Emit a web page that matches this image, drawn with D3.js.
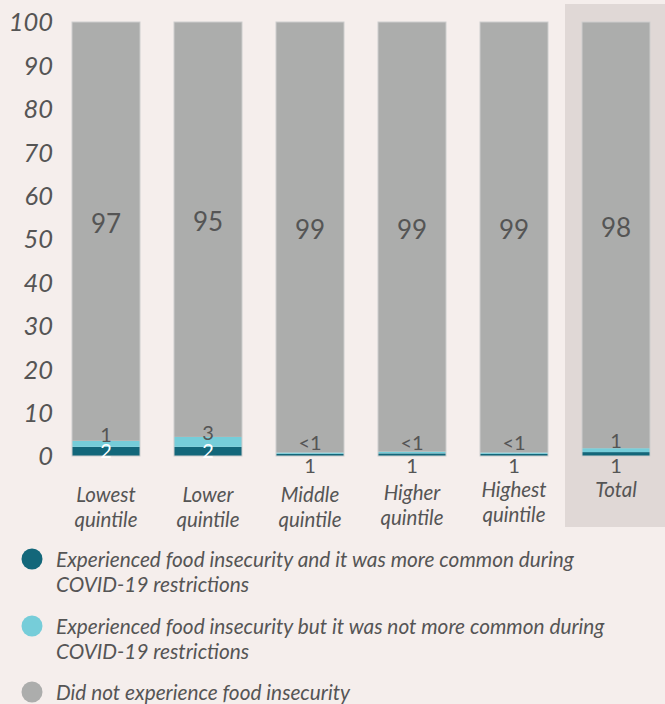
<!DOCTYPE html>
<html>
<head>
<meta charset="utf-8">
<script src="https://cdn.jsdelivr.net/npm/d3@7"></script>
<style>
  body { margin: 0; background: #f5eeec; }
  svg { display: block; font-family: Lato, "Open Sans", sans-serif; }
</style>
</head>
<body>
<svg id="chart" width="665" height="704"></svg>
<script>
// food insecurity by income quintile, stacked to 100
var categories = ["Lowest quintile", "Lower quintile", "Middle quintile", "Higher quintile", "Highest quintile", "Total"];
var moreCommon = [2.1, 2.1, 0.5, 0.6, 0.5, 0.9];      // dark teal
var notMoreCommon = [1.4, 2.3, 0.3, 0.4, 0.3, 0.9]; // light cyan
var noInsecurity = [96.5, 95.6, 99.2, 99, 99.2, 98.2];

var moreLabels = ["2", "2", "1", "1", "1", "1"];
var notMoreLabels = ["1", "3", "<1", "<1", "<1", "1"];
var noLabels = ["97", "95", "99", "99", "99", "98"];

var yTicks = [0, 10, 20, 30, 40, 50, 60, 70, 80, 90, 100];

var legendItems = [
  ["Experienced food insecurity and it was more common during", "COVID-19 restrictions"],
  ["Experienced food insecurity but it was not more common during", "COVID-19 restrictions"],
  ["Did not experience food insecurity"]
];

var keys = ["more", "notMore", "none"];
var colors = {more: "#13677a", notMore: "#76cdd9", none: "#acadac"};

var rows = categories.map(function(c, i) {
  return {cat: c, more: moreCommon[i], notMore: notMoreCommon[i], none: noInsecurity[i], i: i};
});

var svg = d3.select("#chart");

var x = d3.scaleBand().domain(categories).range([55, 667]).paddingInner(1/3).paddingOuter(1/6);
var y = d3.scaleLinear().domain([0, 100]).range([456, 22]);

// highlight band behind Total
svg.append("rect")
  .attr("x", 565).attr("y", 4)
  .attr("width", 100).attr("height", 523)
  .attr("fill", "#e0d8d6");

// y axis labels only
svg.append("g").selectAll("text")
  .data(yTicks).enter().append("text")
  .attr("x", 53)
  .attr("y", function(d) { return y(d) + 3; })
  .attr("text-anchor", "end")
  .attr("dominant-baseline", "middle")
  .attr("font-size", 25.5)
  .attr("font-style", "italic")
  .attr("fill", "#555")
  .text(function(d) { return d; });

var stack = d3.stack().keys(keys)(rows);

svg.append("g").selectAll("g")
  .data(stack).enter().append("g")
  .attr("fill", function(s) { return colors[s.key]; })
  .selectAll("rect")
  .data(function(s) { return s; }).enter().append("rect")
  .attr("x", function(d) { return x(d.data.cat); })
  .attr("width", x.bandwidth())
  .attr("y", function(d) { return y(d[1]); })
  .attr("height", function(d) { return y(d[0]) - y(d[1]); });

// thin outline round each bar
svg.append("g").selectAll("rect")
  .data(rows).enter().append("rect")
  .attr("x", function(d) { return x(d.cat); })
  .attr("y", y(100))
  .attr("width", x.bandwidth())
  .attr("height", y(0) - y(100))
  .attr("fill", "none")
  .attr("stroke", "#cdcdcd")
  .attr("stroke-width", 1);

var cx = function(i) { return x(categories[i]) + x.bandwidth() / 2; };

// big grey labels, middle of grey segment
var noneSeries = stack[2];
svg.append("g").selectAll("text")
  .data(noneSeries).enter().append("text")
  .attr("x", function(d, i) { return cx(i); })
  .attr("y", function(d) { return (y(d[0]) + y(d[1])) / 2 + 2; })
  .attr("text-anchor", "middle")
  .attr("font-size", 26)
  .attr("fill", "#555")
  .text(function(d, i) { return noLabels[i]; });

// light segment labels around the segment middle
var notMoreSeries = stack[1];
svg.append("g").selectAll("text")
  .data(notMoreSeries).enter().append("text")
  .attr("x", function(d, i) { return cx(i); })
  .attr("y", function(d) { return Math.min((y(d[0]) + y(d[1])) / 2 - 2, 450); })
  .attr("text-anchor", "middle")
  .attr("font-size", 20)
  .attr("fill", "#555")
  .text(function(d, i) { return notMoreLabels[i]; });

// dark segment labels: white inside if tall, else below the baseline
var moreSeries = stack[0];
svg.append("g").selectAll("text")
  .data(moreSeries).enter().append("text")
  .attr("x", function(d, i) { return cx(i); })
  .attr("y", function(d) { return d[1] >= 2 ? y(0) + 2 : y(0) + 17; })
  .attr("text-anchor", "middle")
  .attr("font-size", 20)
  .attr("fill", function(d) { return d[1] >= 2 ? "#fff" : "#555"; })
  .text(function(d, i) { return moreLabels[i]; });

// category labels
var catY = [502, 502, 502, 499.5, 497, 497];
var catG = svg.append("g").selectAll("text")
  .data(categories).enter().append("text")
  .attr("text-anchor", "middle")
  .attr("font-size", 20.5)
  .attr("font-style", "italic")
  .attr("fill", "#555")
  .attr("x", function(d) { return x(d) + x.bandwidth() / 2; })
  .attr("y", function(d, i) { return catY[i]; });

catG.each(function(d) {
  var words = d.split(" ");
  var t = d3.select(this);
  words.forEach(function(w, j) {
    t.append("tspan")
      .attr("x", t.attr("x"))
      .attr("dy", j == 0 ? 0 : 25)
      .text(w);
  });
});

// legend
var legendY = [567, 634, 700];
var legendColors = [colors.more, colors.notMore, colors.none];
var lg = svg.append("g").selectAll("g")
  .data(legendItems).enter().append("g");

lg.append("circle")
  .attr("cx", 32)
  .attr("cy", function(d, i) { return legendY[i] - 8; })
  .attr("r", 10.5)
  .attr("fill", function(d, i) { return legendColors[i]; });

lg.append("text")
  .attr("x", 56)
  .attr("y", function(d, i) { return legendY[i]; })
  .attr("font-size", 20.8)
  .attr("font-style", "italic")
  .attr("fill", "#555")
  .each(function(lines) {
    var t = d3.select(this);
    lines.forEach(function(l, j) {
      t.append("tspan").attr("x", 56).attr("dy", j == 0 ? 0 : 25).text(l);
    });
  });
</script>
</body>
</html>
